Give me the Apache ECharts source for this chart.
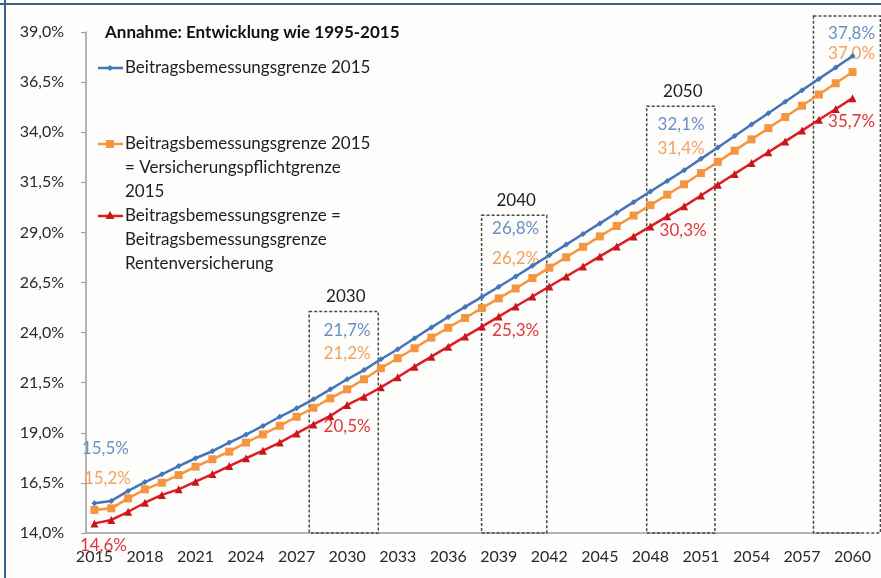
<!DOCTYPE html>
<html><head><meta charset="utf-8">
<script src="https://cdn.jsdelivr.net/npm/echarts@6/dist/echarts.min.js"></script>
<style>html,body{margin:0;padding:0;background:#fff}#c{width:881px;height:578px}</style>
</head><body><div id="c"></div>
<script>
const years = ['2015','2016','2017','2018','2019','2020','2021','2022','2023','2024','2025','2026','2027','2028','2029','2030','2031','2032','2033','2034','2035','2036','2037','2038','2039','2040','2041','2042','2043','2044','2045','2046','2047','2048','2049','2050','2051','2052','2053','2054','2055','2056','2057','2058','2059','2060'];

const seriesNames = [
  'Beitragsbemessungsgrenze 2015',
  'Beitragsbemessungsgrenze 2015\n= Versicherungspflichtgrenze\n2015',
  'Beitragsbemessungsgrenze =\nBeitragsbemessungsgrenze\nRentenversicherung'
];

const blueValues = [15.48,15.60,16.10,16.54,16.93,17.34,17.73,18.08,18.51,18.91,19.34,19.80,20.22,20.67,21.17,21.67,22.13,22.67,23.17,23.72,24.26,24.78,25.28,25.78,26.29,26.80,27.33,27.86,28.39,28.92,29.45,29.98,30.51,31.04,31.57,32.10,32.67,33.24,33.81,34.38,34.95,35.52,36.09,36.66,37.23,37.80];
const orangeValues = [15.15,15.23,15.73,16.18,16.51,16.89,17.31,17.68,18.06,18.51,18.92,19.35,19.80,20.25,20.72,21.17,21.67,22.22,22.72,23.22,23.75,24.24,24.73,25.22,25.71,26.20,26.72,27.24,27.76,28.28,28.80,29.32,29.84,30.36,30.88,31.40,31.96,32.52,33.08,33.64,34.20,34.76,35.32,35.88,36.44,37.00];
const redValues = [14.48,14.65,15.06,15.51,15.90,16.18,16.56,16.94,17.34,17.73,18.11,18.51,18.97,19.42,19.84,20.39,20.80,21.27,21.77,22.30,22.80,23.30,23.80,24.30,24.80,25.30,25.80,26.30,26.80,27.30,27.80,28.30,28.80,29.30,29.80,30.30,30.84,31.38,31.92,32.46,33.00,33.54,34.08,34.62,35.16,35.70];

// labelled display values (as printed in the chart)
const labelYears = ['2015','2030','2040','2050','2060'];
const blueLabels = [15.5,21.7,26.8,32.1,37.8];
const orangeLabels = [15.2,21.2,26.2,31.4,37.0];
const redLabels = [14.6,20.5,25.3,30.3,35.7];

// highlighted periods (box from/to in years, top value) and their captions
const boxFrom = [2027.75, 2037.98, 2047.78, 2057.68];
const boxTo = [2031.85, 2041.85, 2051.83, 2061.65];
const boxTop = [25.05, 29.85, 35.3, 39.8];
const boxCaptions = ['2030','2040','2050',''];

const yTicks = {min:14, max:39, interval:2.5};

const FONT = 'Lato';
const C_BLUE = '#4375b9', C_ORANGE = '#f5953f', C_RED = '#e01b22';
const L_BLUE = '#6a8fc6', L_ORANGE = '#f3a060', L_RED = '#e2353a';

const fmt = v => v.toFixed(1).replace('.', ',') + '%';

// label offsets (pixel) per labelled point
const blueOff = [[11,-55],[0,-49],[0,-48],[-3,-46],[-1,-23]];
const orangeOff = [[13,-31],[0,-36],[0,-30],[-3,-36],[-1,-19]];
const redOff = [[9,22],[0,22],[0,23.5],[-1,24],[-1,23]];

function build(values, labels, offs, color) {
  return values.map((v, i) => {
    const k = labelYears.indexOf(years[i]);
    if (k < 0) return v;
    return {
      value: v,
      label: {
        show: true, position: 'inside', offset: offs[k],
        formatter: () => fmt(labels[k]),
        color: color, fontFamily: FONT, fontSize: 17
      }
    };
  });
}

const chart = echarts.init(document.getElementById('c'), null, {renderer: 'canvas'});

function legendItem(y, color, symbolShape, text) {
  return {
    type: 'group',
    children: [
      {type: 'line', shape: {x1: 98, y1: y, x2: 123, y2: y}, style: {stroke: color, lineWidth: 2.5}},
      symbolShape,
      {type: 'text', style: {text: text, x: 125, y: y - 12, fill: '#1e1e1e', font: '17px ' + FONT, lineHeight: 24, verticalAlign: 'top'}}
    ]
  };
}

const option = {
  backgroundColor: '#fdfdfc',
  animation: false,
  grid: {left: 86, top: 32, width: 775, height: 501},
  xAxis: [
    {
      type: 'category', data: years, boundaryGap: true,
      axisLine: {lineStyle: {color: '#a09a96', width: 1.5}},
      axisTick: {interval: 0, length: 5, lineStyle: {color: '#a09a96'}},
      axisLabel: {interval: 2, color: '#2a2a2a', fontFamily: FONT, fontSize: 16, margin: 16},
      splitLine: {show: false}
    },
    {type: 'value', min: 2014.5, max: 2060.5, show: false}
  ],
  yAxis: {
    type: 'value', min: yTicks.min, max: yTicks.max, interval: yTicks.interval,
    axisLine: {show: true, lineStyle: {color: '#a09a96', width: 1.5}},
    axisTick: {show: true, length: 5, lineStyle: {color: '#a09a96'}},
    axisLabel: {color: '#2a2a2a', fontFamily: FONT, fontSize: 16, margin: 22, formatter: v => fmt(v)},
    splitLine: {show: false}
  },
  series: [
    {
      type: 'custom', xAxisIndex: 1, yAxisIndex: 0, silent: true, z: 1,
      data: boxFrom.map((f, i) => [f, boxTo[i], boxTop[i]]),
      renderItem: function (params, api) {
        const p1 = api.coord([api.value(0), api.value(2)]);
        const p2 = api.coord([api.value(1), yTicks.min]);
        const cap = boxCaptions[params.dataIndex];
        const children = [{
          type: 'rect',
          shape: {x: p1[0], y: p1[1], width: p2[0] - p1[0], height: p2[1] - p1[1]},
          style: {fill: null, stroke: '#4a4a4a', lineWidth: 1.5, lineDash: [3, 2]}
        }];
        if (cap) children.push({
          type: 'text',
          style: {text: cap, x: (p1[0] + p2[0]) / 2 + 2, y: p1[1] - 15, align: 'center', verticalAlign: 'middle',
                  fill: '#1e1e1e', font: '17px ' + FONT}
        });
        return {type: 'group', children: children};
      }
    },
    {
      name: seriesNames[0], type: 'line', data: build(blueValues, blueLabels, blueOff, L_BLUE),
      symbol: 'diamond', symbolSize: 6, showAllSymbol: true, z: 4,
      lineStyle: {color: C_BLUE, width: 2.5}, itemStyle: {color: C_BLUE}
    },
    {
      name: seriesNames[1], type: 'line', data: build(orangeValues, orangeLabels, orangeOff, L_ORANGE),
      symbol: 'rect', symbolSize: 8, showAllSymbol: true, z: 3,
      lineStyle: {color: C_ORANGE, width: 2.5}, itemStyle: {color: C_ORANGE}
    },
    {
      name: seriesNames[2], type: 'line', data: build(redValues, redLabels, redOff, L_RED),
      symbol: 'triangle', symbolSize: 8, showAllSymbol: true, z: 2,
      lineStyle: {color: C_RED, width: 2.5}, itemStyle: {color: '#c8161d'}
    }
  ],
  graphic: [
    {type: 'line', shape: {x1: 0, y1: 4, x2: 881, y2: 4}, style: {stroke: '#3a5f8c', lineWidth: 2}},
    {type: 'line', shape: {x1: 5, y1: 0, x2: 5, y2: 578}, style: {stroke: '#3a5f8c', lineWidth: 2}},
    {type: 'text', style: {text: 'Annahme: Entwicklung wie 1995-2015', x: 105, y: 33, verticalAlign: 'middle',
      fill: '#111', font: 'bold 17px ' + FONT}},
    legendItem(68, C_BLUE, {type: 'polygon', shape: {points: [[110, 65], [113, 68], [110, 71], [107, 68]]}, style: {fill: C_BLUE}}, seriesNames[0]),
    legendItem(144, C_ORANGE, {type: 'rect', shape: {x: 106, y: 140, width: 8, height: 8}, style: {fill: C_ORANGE}}, seriesNames[1]),
    legendItem(216, C_RED, {type: 'polygon', shape: {points: [[110, 211], [114.5, 219], [105.5, 219]]}, style: {fill: '#c8161d'}}, seriesNames[2])
  ]
};
chart.setOption(option);
</script></body></html>
